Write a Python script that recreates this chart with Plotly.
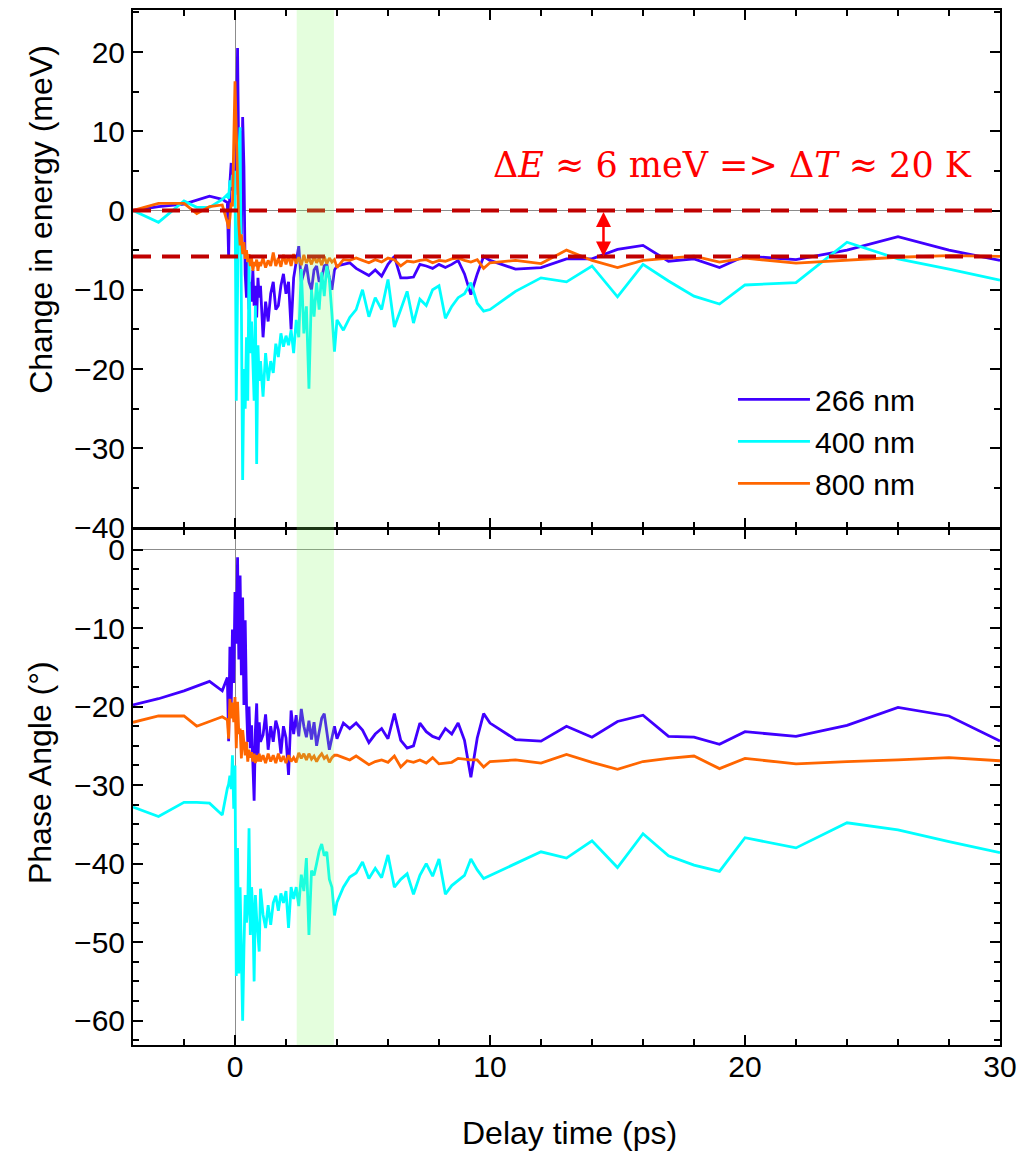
import plotly.graph_objects as go
from plotly.subplots import make_subplots

# ---------------- data ----------------
delay_pre = [-4, -3, -2, -1.5, -1, -0.5]
delay_fast = [-0.3, -0.25, -0.2, -0.15, -0.1, -0.05, 0, 0.05, 0.1, 0.15, 0.2, 0.25, 0.3,
              0.35, 0.4, 0.45, 0.5, 0.55, 0.6, 0.65, 0.7, 0.75, 0.8, 0.85, 0.9, 0.95, 1.0]
delay_mid = [1.1, 1.2, 1.3, 1.4, 1.5, 1.6, 1.7, 1.8, 1.9, 2.0, 2.1, 2.2, 2.3, 2.4, 2.5,
             2.6, 2.7, 2.8, 2.9, 3.0, 3.1, 3.2, 3.3, 3.4, 3.5, 3.6, 3.7, 3.8, 3.9, 4.0]
delay_slow = [4.25, 4.5, 4.75, 5.0, 5.25, 5.5, 5.75, 6.0, 6.25, 6.5, 6.75, 7.0, 7.25, 7.5,
              7.75, 8.0, 8.25, 8.5, 8.75, 9.0, 9.25, 9.5, 9.75, 10.0]
delay_late = [11, 12, 13, 14, 15, 16, 17, 18, 19, 20, 22, 24, 26, 28, 30]
delay_ps = delay_pre + delay_fast + delay_mid + delay_slow + delay_late

wavelengths = ["266 nm", "400 nm", "800 nm"]
colors = ["#4000ff", "#00ffff", "#ff6600"]

# Change in energy (meV)
energy_266 = (
    [0.0, 0.5, 0.8, 1.3, 1.8, 1.4]
    + [1.0, -6.0, 3.5, 6.0, 2.5, 4.0, 2.0, 8.0, 20.5, 5.0, 10.0, -3.0, 11.8, 5.5, -8.0,
       -11.0, -6.5, -12.5, -9.0, -11.5, -7.5, -12.0, -9.5, -13.5, -8.5, -11.0, -9.5]
    + [-16.0, -11.5, -14.0, -10.5, -9.0, -12.5, -12.0, -9.5, -8.0, -10.5, -9.0, -15.0,
       -8.5, -6.5, -4.5, -9.0, -8.0, -6.8, -9.0, -10.0, -7.5, -7.0, -9.0, -8.5, -7.0,
       -6.8, -8.5, -10.0, -7.5, -7.0]
    + [-6.8, -6.6, -7.3, -7.8, -8.2, -7.5, -8.3, -6.8, -5.8, -8.5, -8.5, -8.4, -6.8,
       -7.0, -7.3, -6.8, -7.2, -6.8, -6.3, -8.0, -10.6, -8.0, -5.8, -6.3]
    + [-7.4, -7.2, -6.1, -6.1, -4.9, -4.4, -6.4, -6.1, -7.2, -5.75, -6.2, -5.0, -3.3,
       -5.0, -6.3]
)
energy_400 = (
    [0.0, -1.5, 1.2, 0.4, 0.4, 1.4]
    + [2.0, 1.5, 3.8, 3.0, 4.5, 3.0, 5.0, -24.0, -10.0, 7.0, 10.5, -20.0, -34.0, -20.0,
       -25.0, -16.0, -24.0, -6.5, -18.0, -14.0, -20.5, -24.0, -12.0, -32.0, -17.0, -21.5,
       -19.0]
    + [-23.5, -18.0, -21.5, -19.0, -20.5, -16.8, -18.5, -15.5, -17.2, -15.8, -17.0,
       -15.1, -18.0, -13.8, -16.0, -7.4, -15.5, -12.1, -22.5, -10.0, -13.4, -9.1, -12.5,
       -7.8, -10.8, -7.0, -8.7, -13.0, -17.8, -13.8]
    + [-15.1, -13.5, -12.5, -10.0, -13.4, -11.0, -12.5, -8.7, -14.7, -12.5, -10.2,
       -14.2, -11.2, -12.0, -10.0, -9.5, -13.6, -12.1, -11.0, -10.5, -9.1, -11.7, -12.7,
       -12.5]
    + [-10.2, -8.5, -9.0, -7.0, -10.9, -6.8, -8.9, -10.8, -11.8, -9.4, -9.1, -4.0, -6.1,
       -7.4, -8.8]
)
energy_800 = (
    [0.0, 0.9, 0.9, -0.4, 0.5, 0.7]
    + [-1.5, -2.3, -1.0, 1.0, 0.5, 8.8, 16.3, 10.0, 3.0, -1.8, -4.4, -3.0, -5.5, -4.0,
       -6.1, -5.0, -6.5, -5.5, -7.0, -6.0, -7.6, -6.5, -7.0, -6.2, -7.6, -6.5, -7.0]
    + [-6.0, -7.2, -6.3, -7.0, -5.3, -7.0, -6.0, -7.1, -5.6, -6.8, -5.7, -7.0, -5.5,
       -6.7, -5.9, -6.9, -5.6, -6.6, -6.0, -6.8, -5.8, -6.6, -6.0, -6.9, -5.8, -6.7,
       -6.0, -6.5, -6.2, -7.2]
    + [-6.2, -6.3, -6.0, -6.3, -6.6, -6.2, -6.5, -6.0, -6.2, -7.0, -6.4, -6.5, -6.3,
       -6.2, -6.6, -6.3, -6.4, -6.1, -6.0, -6.3, -6.5, -6.2, -7.3, -6.6]
    + [-6.3, -6.7, -5.0, -6.3, -7.2, -6.3, -6.0, -5.75, -6.5, -6.0, -6.65, -6.3, -5.9,
       -5.7, -5.8]
)

# Phase angle (deg)
phase_266 = (
    [-19.8, -19.0, -18.0, -17.4, -16.8, -18.0]
    + [-16.3, -24.4, -12.4, -20.3, -10.2, -17.0, -5.4, -12.0, -1.0, -14.0, -3.3, -16.0,
       -6.1, -19.8, -9.0, -19.6, -24.5, -20.0, -25.3, -22.4, -26.2, -32.0, -23.0, -19.6,
       -26.6, -22.0, -24.5]
    + [-23.6, -21.0, -25.5, -22.5, -24.5, -21.8, -23.0, -26.0, -22.5, -24.0, -28.7,
       -20.5, -23.5, -21.1, -23.8, -20.3, -22.5, -23.9, -21.8, -24.2, -22.0, -25.0,
       -23.0, -21.5, -20.9, -23.5, -25.5, -24.0, -22.5, -24.1]
    + [-22.1, -22.8, -22.1, -23.0, -24.6, -23.5, -22.8, -24.1, -20.9, -24.3, -25.3,
       -25.0, -22.1, -23.2, -23.8, -24.1, -22.8, -23.5, -22.1, -24.3, -29.0, -24.0,
       -20.9, -22.1]
    + [-24.2, -24.4, -22.5, -23.9, -21.9, -21.1, -23.8, -23.9, -24.8, -23.2, -23.8,
       -22.4, -20.1, -21.2, -24.4]
)
phase_400 = (
    [-32.8, -34.0, -32.2, -32.2, -32.3, -33.8]
    + [-30.4, -29.9, -28.8, -30.5, -26.2, -33.0, -27.5, -54.3, -38.0, -54.0, -43.0,
       -52.0, -60.0, -50.8, -44.0, -47.5, -45.7, -35.5, -49.1, -43.0, -46.0, -55.0,
       -44.0, -47.0, -49.1, -51.2, -43.2]
    + [-46.5, -48.2, -45.3, -47.8, -45.0, -44.1, -46.0, -43.8, -45.0, -43.5, -48.2,
       -43.0, -44.5, -43.0, -45.4, -41.4, -43.5, -39.3, -49.1, -40.9, -41.5, -40.0,
       -38.4, -37.5, -39.0, -38.5, -42.0, -43.0, -46.6, -44.9]
    + [-43.0, -41.7, -41.2, -39.8, -41.9, -40.6, -41.8, -38.9, -43.0, -42.0, -41.3,
       -43.9, -41.5, -40.0, -41.6, -39.4, -43.9, -42.8, -42.2, -41.5, -39.4, -40.8,
       -41.9, -41.5]
    + [-40.0, -38.5, -39.3, -37.1, -40.5, -36.2, -39.0, -40.2, -41.0, -36.7, -38.0,
       -34.8, -35.7, -37.2, -38.6]
)
phase_800 = (
    [-22.0, -21.2, -21.2, -22.5, -21.9, -21.3]
    + [-21.7, -24.1, -19.0, -21.5, -19.5, -22.0, -18.8, -25.3, -19.4, -23.5, -22.8,
       -26.6, -23.0, -24.5, -26.2, -24.5, -27.0, -25.5, -26.5, -25.8, -27.0, -26.0,
       -27.2, -26.2, -27.0, -26.0, -27.0]
    + [-26.2, -27.2, -26.0, -27.0, -26.2, -27.2, -26.0, -27.0, -26.3, -27.2, -26.2,
       -27.0, -26.5, -27.1, -25.9, -26.6, -26.0, -26.8, -26.0, -26.7, -26.3, -27.0,
       -26.4, -26.0, -26.6, -26.3, -27.1, -26.5, -26.2, -26.2]
    + [-26.5, -26.8, -26.3, -26.8, -27.4, -27.0, -26.8, -27.1, -26.3, -27.7, -26.9,
       -27.1, -26.8, -27.2, -26.5, -27.3, -27.2, -27.1, -26.6, -26.7, -26.8, -26.8,
       -27.7, -27.0]
    + [-26.8, -27.2, -26.1, -27.1, -28.0, -27.0, -26.6, -26.3, -27.9, -26.6, -27.3,
       -27.0, -26.8, -26.5, -26.9]
)

energy_series = [energy_266, energy_400, energy_800]
phase_series = [phase_266, phase_400, phase_800]

heating_levels = [0.0, -5.8]       # meV, dashed reference lines
arrow_delay = 14.45                # ps
highlight_window = [2.42, 3.88]    # ps
x_range = [-4, 30]
energy_range = [-40, 25.3]
phase_range = [-63.1, 2.55]

# ---------------- figure ----------------
fig = make_subplots(rows=2, cols=1, shared_xaxes=True, vertical_spacing=0)

for name, col, e in zip(wavelengths, colors, energy_series):
    fig.add_trace(go.Scatter(x=delay_ps, y=e, mode="lines", name=name,
                             line=dict(color=col, width=2.8)), row=1, col=1)
for name, col, p in zip(wavelengths, colors, phase_series):
    fig.add_trace(go.Scatter(x=delay_ps, y=p, mode="lines", name=name, showlegend=False,
                             line=dict(color=col, width=2.8)), row=2, col=1)

font_main = "Liberation Sans, Arial, sans-serif"
axis_common = dict(showline=True, linecolor="black", linewidth=2, mirror="ticks",
                   ticks="inside", ticklen=10, tickwidth=2, tickcolor="black",
                   showgrid=False, zeroline=True, zerolinecolor="#8c8c8c", zerolinewidth=1,
                   tickfont=dict(family=font_main, size=30, color="black"))

fig.update_xaxes(range=x_range, tick0=0, dtick=10,
                 minor=dict(dtick=2, ticks="inside", ticklen=6, tickwidth=2,
                            tickcolor="black", showgrid=False),
                 **axis_common)
fig.update_xaxes(showticklabels=False, row=1, col=1)
fig.update_xaxes(ticklabelstandoff=-6, row=2, col=1)
fig.update_yaxes(range=energy_range, tick0=0, dtick=10, domain=[0.5, 1.0],
                 minor=dict(dtick=5, ticks="inside", ticklen=6, tickwidth=2,
                            tickcolor="black", showgrid=False),
                 row=1, col=1, **axis_common)
fig.update_yaxes(range=phase_range, tick0=0, dtick=10, domain=[0.0, 0.5 - 2.0 / 1037],
                 minor=dict(dtick=2.5, ticks="inside", ticklen=6, tickwidth=2,
                            tickcolor="black", showgrid=False),
                 row=2, col=1, **axis_common)

# dashed reference lines (top panel)
for lvl in heating_levels:
    fig.add_shape(type="line", xref="x", yref="y", x0=x_range[0], x1=x_range[1],
                  y0=lvl, y1=lvl, layer="above",
                  line=dict(color="#c00000", width=4, dash="18px,11px"))

# highlighted delay window spanning both panels
fig.add_shape(type="rect", xref="x", yref="paper", x0=highlight_window[0],
              x1=highlight_window[1], y0=0, y1=1, layer="above",
              fillcolor="rgba(130,250,100,0.22)", line=dict(width=0))

# double arrow between the dashed lines
fig.add_annotation(x=arrow_delay, y=heating_levels[1], ax=arrow_delay, ay=heating_levels[0],
                   xref="x", yref="y", axref="x", ayref="y", text="", showarrow=True,
                   arrowhead=2, startarrowhead=2, arrowside="end+start",
                   arrowsize=1.2, startarrowsize=1.2, arrowwidth=2.5, arrowcolor="#ff0000")

fig.add_annotation(x=19.5, y=5.7, xref="x", yref="y", showarrow=False,
                   text="Δ<i>E</i> ≈ 6 meV => Δ<i>T</i> ≈ 20 K",
                   font=dict(family="DejaVu Serif, serif", size=35, color="#ff0000"),
                   xanchor="center", yanchor="middle")

# axis titles
title_font = dict(family=font_main, size=32, color="black")
fig.add_annotation(text="Change in energy (meV)", xref="paper", yref="paper",
                   x=-0.107, y=0.7975, textangle=-90, showarrow=False,
                   xanchor="center", yanchor="middle", font=title_font)
fig.add_annotation(text="Phase Angle (°)", xref="paper", yref="paper",
                   x=-0.107, y=0.263, textangle=-90, showarrow=False,
                   xanchor="center", yanchor="middle", font=title_font)
fig.add_annotation(text="Delay time (ps)", xref="paper", yref="paper",
                   x=0.503, y=-0.085, showarrow=False,
                   xanchor="center", yanchor="middle", font=title_font)

fig.update_layout(
    width=1025, height=1153,
    margin=dict(l=133, r=22, t=8, b=108),
    paper_bgcolor="white", plot_bgcolor="white",
    showlegend=True,
    legend=dict(x=0.692, y=0.649, xanchor="left", yanchor="top",
                bgcolor="rgba(0,0,0,0)", borderwidth=0, itemwidth=72,
                font=dict(family=font_main, size=30, color="black"),
                tracegroupgap=0),
)

fig.write_html("out.html")
